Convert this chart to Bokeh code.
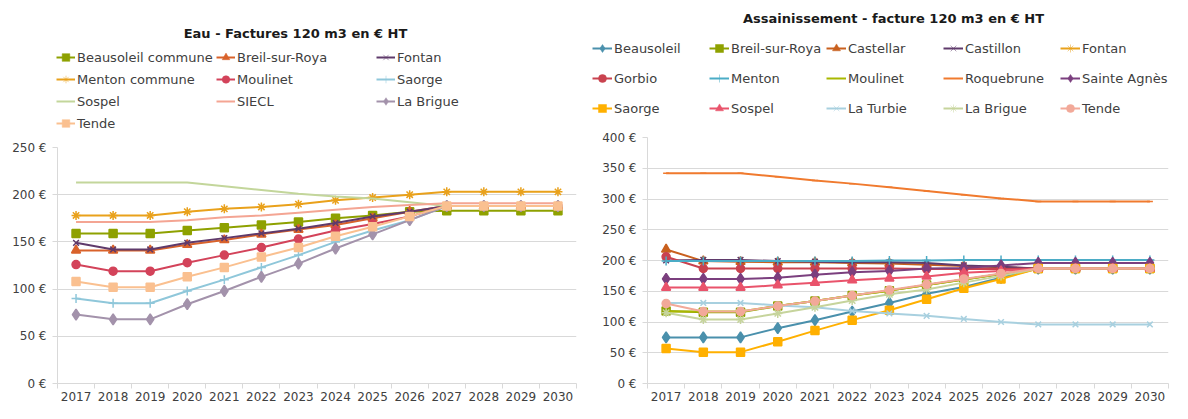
from bokeh.plotting import figure
from bokeh.models import Range1d, FixedTicker, PrintfTickFormatter, Legend, LegendItem, Label
from bokeh.layouts import row, column
from bokeh.embed import file_html
from bokeh.resources import INLINE

# ---------------- data ----------------
years = ["2017", "2018", "2019", "2020", "2021", "2022", "2023",
         "2024", "2025", "2026", "2027", "2028", "2029", "2030"]

# Eau - Factures 120 m3 en € HT
eau_names = ["Beausoleil commune", "Breil-sur-Roya", "Fontan",
             "Menton commune", "Moulinet", "Saorge",
             "Sospel", "SIECL", "La Brigue", "Tende"]
eau_beausoleil_commune = [159, 159, 159, 162, 165, 168, 171, 175, 178, 182, 183, 183, 183, 183]
eau_breil = [141, 141, 141, 147, 152, 158, 163, 168, 175, 182, 188, 188, 188, 188]
eau_fontan = [149, 142, 142, 149, 154, 159, 164, 170, 177, 182, 188, 188, 188, 188]
eau_menton_commune = [178, 178, 178, 182, 185, 187, 190, 194, 197, 200, 203, 203, 203, 203]
eau_moulinet = [126, 119, 119, 128, 136, 144, 153, 162, 169, 177, 188, 188, 188, 188]
eau_saorge = [90, 85, 85, 98, 110, 123, 136, 150, 162, 173, 188, 188, 188, 188]
eau_sospel = [213, 213, 213, 213, 209, 205, 201, 198, 196, 192, 188, 188, 188, 188]
eau_siecl = [171, 171, 171, 173, 176, 178, 181, 184, 187, 189, 191, 191, 191, 191]
eau_la_brigue = [73, 68, 68, 84, 98, 113, 127, 143, 158, 173, 188, 188, 188, 188]
eau_tende = [108, 102, 102, 113, 123, 134, 144, 156, 166, 177, 188, 188, 188, 188]
eau_ticks = [0, 50, 100, 150, 200, 250]

# Assainissement - facture 120 m3 en € HT
ass_names = ["Beausoleil", "Breil-sur-Roya", "Castellar", "Castillon", "Fontan",
             "Gorbio", "Menton", "Moulinet", "Roquebrune", "Sainte Agnès",
             "Saorge", "Sospel", "La Turbie", "La Brigue", "Tende"]
ass_beausoleil = [75, 75, 75, 90, 103, 117, 131, 146, 157, 172, 187, 187, 187, 187]
ass_breil = [118, 116, 116, 126, 134, 143, 151, 160, 169, 178, 187, 187, 187, 187]
ass_castellar = [218, 199, 198, 197, 197, 196, 195, 193, 191, 189, 187, 187, 187, 187]
ass_castillon = [200, 201, 201, 199, 198, 197, 197, 196, 192, 190, 187, 187, 187, 187]
ass_fontan = [None] * 14
ass_gorbio = [206, 187, 187, 187, 187, 187, 187, 186, 186, 186, 187, 187, 187, 187]
ass_menton = [199, 199, 199, 199, 199, 199, 200, 200, 201, 201, 201, 201, 201, 201]
ass_moulinet = [117, 117, 117, 126, 134, 143, 151, 160, 169, 178, 187, 187, 187, 187]
ass_roquebrune = [342, 342, 342, 336, 330, 325, 319, 313, 307, 301, 296, 296, 296, 296]
ass_sainte_agnes = [170, 170, 170, 172, 177, 181, 183, 187, 188, 192, 196, 196, 196, 196]
ass_saorge = [57, 51, 51, 68, 86, 103, 119, 137, 155, 170, 187, 187, 187, 187]
ass_sospel = [156, 156, 156, 160, 164, 168, 171, 174, 180, 183, 187, 187, 187, 187]
ass_la_turbie = [131, 131, 131, 127, 124, 118, 114, 110, 105, 100, 96, 96, 96, 96]
ass_la_brigue = [115, 104, 104, 114, 124, 135, 145, 153, 164, 175, 187, 187, 187, 187]
ass_tende = [130, 117, 117, 126, 134, 143, 152, 161, 170, 179, 187, 187, 187, 187]
ass_ticks = [0, 50, 100, 150, 200, 250, 300, 350, 400]

# ---------------- styles ----------------
FONT = "DejaVu Sans"
TXT = "#404040"
GRID = "#D9D9D9"

eau_series = [
    (eau_beausoleil_commune, "#8EA100", "square", 8),
    (eau_breil, "#D9622B", "triangle", 9),
    (eau_fontan, "#5F3A6B", "x", 8),
    (eau_menton_commune, "#E9A11B", "asterisk", 9),
    (eau_moulinet, "#D3435A", "circle", 8),
    (eau_saorge, "#8FC7DA", "cross", 9),
    (eau_sospel, "#C3D69B", None, 0),
    (eau_siecl, "#F4A593", None, 0),
    (eau_la_brigue, "#A392AB", "diamond", 11),
    (eau_tende, "#FAC090", "square", 8),
]
ass_series = [
    (ass_beausoleil, "#4A90AC", "diamond", 11),
    (ass_breil, "#8EA100", "square", 8),
    (ass_castellar, "#C9601E", "triangle", 9),
    (ass_castillon, "#5F3A6B", "x", 8),
    (ass_fontan, "#E9A11B", "asterisk", 9),
    (ass_gorbio, "#C9424F", "circle", 8),
    (ass_menton, "#4BACC6", "cross", 9),
    (ass_moulinet, "#A9B800", None, 0),
    (ass_roquebrune, "#F07A2E", "dash", 6),
    (ass_sainte_agnes, "#7B3F7E", "diamond", 11),
    (ass_saorge, "#FFB000", "square", 8),
    (ass_sospel, "#E9536B", "triangle", 9),
    (ass_la_turbie, "#A8D0DF", "x", 8),
    (ass_la_brigue, "#C6D49C", "asterisk", 9),
    (ass_tende, "#F2A999", "circle", 8),
]

centers = [i + 0.5 for i in range(len(years))]
bounds = [float(i) for i in range(len(years) + 1)]


def add_series(p, vals, color, marker, size, visible=True, mlw=1.5):
    ys = [float("nan") if v is None else v for v in vals]
    rs = [p.line(centers, ys, line_color=color, line_width=2, visible=visible)]
    if marker:
        rs.append(p.scatter(centers, ys, marker=marker, size=size, visible=visible,
                            fill_color=color, line_color=color, line_width=mlw))
    return rs


def make_header(title, names, series, width, height, title_xy,
                legend_x, legend_y, ncols, pitch, glyph_w, glyph_h, spacing):
    h = figure(width=width, height=height, output_backend="svg", toolbar_location=None,
               x_range=Range1d(0, width), y_range=Range1d(0, height),
               min_border=0, min_border_left=0, min_border_right=0,
               min_border_top=0, min_border_bottom=0,
               x_axis_type=None, y_axis_type=None)
    h.frame_align = False
    h.outline_line_color = None
    h.grid.visible = False
    items = []
    for name, (vals, color, marker, size) in zip(names, series):
        items.append(LegendItem(label=name,
                                renderers=add_series(h, vals, color, marker, size,
                                                     visible=False, mlw=0.5)))
    total_rows = (len(items) + ncols - 1) // ncols
    for c in range(ncols):
        col_items = items[c::ncols]
        y_off = legend_y + (total_rows - len(col_items)) * (glyph_h + spacing)
        lg = Legend(items=col_items, location=(legend_x + c * pitch, y_off),
                    orientation="vertical", glyph_width=glyph_w, glyph_height=glyph_h,
                    label_height=glyph_h, label_standoff=2, spacing=spacing,
                    padding=0, margin=0, border_line_color=None,
                    background_fill_alpha=0, inactive_fill_alpha=0,
                    label_text_font=FONT,
                    label_text_font_size="13px", label_text_color=TXT)
        h.add_layout(lg)
    h.add_layout(Label(x=title_xy[0], y=title_xy[1], text=title, text_font=FONT,
                       text_font_style="bold", text_font_size="13px",
                       text_color="#1A1A1A", text_align="center",
                       text_baseline="middle"))
    return h


def make_chart(series, ymax, yticks, width, height, bl, br):
    p = figure(width=width, height=height, output_backend="svg", toolbar_location=None,
               x_range=Range1d(0, len(years)), y_range=Range1d(0, ymax),
               min_border_left=bl, min_border_right=br, min_border_top=8,
               min_border_bottom=18)
    p.frame_align = False
    p.outline_line_color = None
    p.xgrid.grid_line_color = None
    p.ygrid.grid_line_color = GRID
    p.ygrid.ticker = FixedTicker(ticks=yticks)

    xa = p.xaxis[0]
    xa.ticker = FixedTicker(ticks=centers, minor_ticks=bounds)
    xa.major_label_overrides = {c: y for c, y in zip(centers, years)}
    xa.major_tick_line_color = None
    xa.major_tick_out = 0
    xa.major_tick_in = 0
    xa.minor_tick_line_color = GRID
    xa.minor_tick_out = 5
    xa.minor_tick_in = 0
    xa.axis_line_color = GRID
    xa.major_label_standoff = 3

    ya = p.yaxis[0]
    ya.ticker = FixedTicker(ticks=yticks)
    ya.formatter = PrintfTickFormatter(format="%d €")
    ya.axis_line_color = GRID
    ya.major_tick_line_color = GRID
    ya.major_tick_out = 5
    ya.major_tick_in = 0
    ya.minor_tick_line_color = None
    ya.major_label_standoff = 6

    for ax in (xa, ya):
        ax.major_label_text_font = FONT
        ax.major_label_text_font_size = "12px"
        ax.major_label_text_color = TXT

    for vals, color, marker, size in series:
        add_series(p, vals, color, marker, size)
    return p


# left: header 0..139, frame 147..385
hl = make_header("Eau - Factures 120 m3 en € HT", eau_names, eau_series,
                 588, 139, (295, 106), 56, 5, 3, 160, 19, 22, 0)
cl = make_chart(eau_series, 250, eau_ticks, 588, 264, 57, 12)

# right: header 0..129, frame 137..385
hr = make_header("Assainissement - facture 120 m3 en € HT", ass_names, ass_series,
                 584, 129, (305, 111), 4, 7, 5, 117, 20, 28, 2)
cr = make_chart(ass_series, 400, ass_ticks, 584, 274, 59, 4)

layout = row(column(hl, cl, spacing=0), column(hr, cr, spacing=0), spacing=0)
open("out.html", "w").write(file_html(layout, INLINE))
